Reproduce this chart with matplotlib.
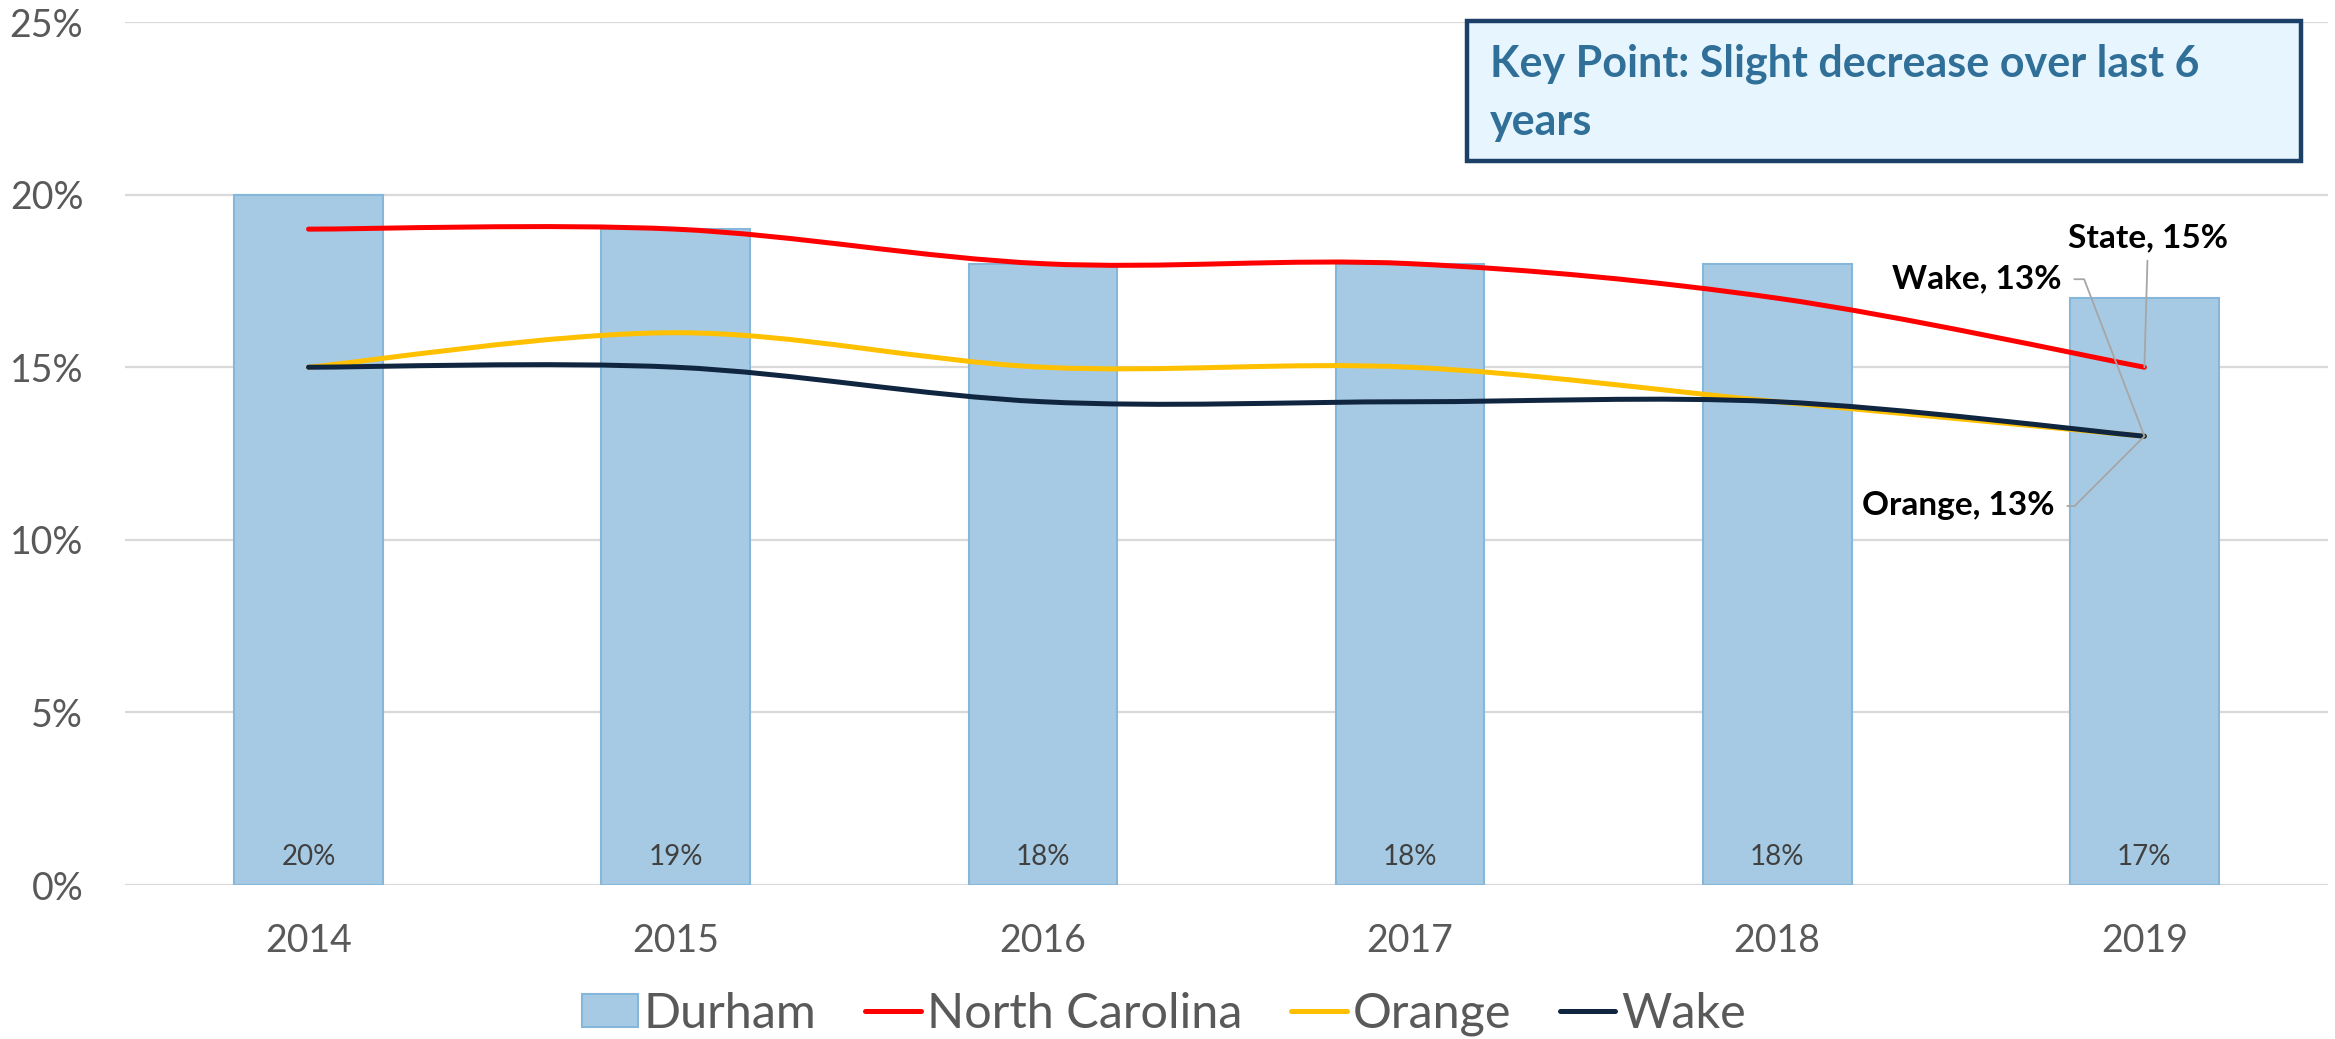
"""Durham vs state/county trend chart, Excel-style bars + smoothed lines."""

import numpy as np
import matplotlib
matplotlib.use("Agg")
import matplotlib.pyplot as plt
from matplotlib.path import Path
from matplotlib.patches import PathPatch, FancyBboxPatch, Patch
from matplotlib.lines import Line2D
from matplotlib.ticker import PercentFormatter

plt.rcParams['font.family'] = ['Lato', 'DejaVu Sans']

# ---- data ----
years = ['2014', '2015', '2016', '2017', '2018', '2019']
durham = [0.20, 0.19, 0.18, 0.18, 0.18, 0.17]
north_carolina = [0.19, 0.19, 0.18, 0.18, 0.17, 0.15]
orange = [0.15, 0.16, 0.15, 0.15, 0.14, 0.13]
wake = [0.15, 0.15, 0.14, 0.14, 0.14, 0.13]

durham_labels = ['20%', '19%', '18%', '18%', '18%', '17%']
key_point = ['Key Point: Slight decrease over last 6', 'years']

# colours
BAR_FILL = '#A6CAE3'
BAR_EDGE = '#86B7DA'
RED = '#FF0000'
GOLD = '#FFC000'
NAVY = '#0F2540'
GRID = '#D9D9D9'
TXT = '#595959'


def smooth_path(xs, ys):
    """Excel-like smoothed line: cubic Bezier segments through the points."""
    pts = np.column_stack([xs, ys]).astype(float)
    n = len(pts)
    verts = [pts[0]]
    codes = [Path.MOVETO]
    for i in range(n - 1):
        p0 = pts[max(i - 1, 0)]
        p1 = pts[i]
        p2 = pts[i + 1]
        p3 = pts[min(i + 2, n - 1)]
        verts += [p1 + (p2 - p0) / 6, p2 - (p3 - p1) / 6, p2]
        codes += [Path.CURVE4] * 3
    return Path(verts, codes)


fig = plt.figure(figsize=(23.35, 10.39), dpi=100)
ax = fig.add_axes([0.0535, 0.1482, 0.9435, 0.8306])

x = np.arange(len(years))

# gridlines
ax.set_ylim(0, 0.25)
ax.set_xlim(-0.5, len(years) - 0.5)
ax.set_yticks(np.arange(0, 0.26, 0.05))
ax.yaxis.set_major_formatter(PercentFormatter(1.0, decimals=0))
ax.grid(axis='y', color=GRID, linewidth=1.6)
ax.set_axisbelow(True)
for s in ax.spines.values():
    s.set_visible(False)
ax.tick_params(axis='both', length=0, labelsize=27, labelcolor=TXT)
ax.tick_params(axis='y', pad=30)
ax.tick_params(axis='x', pad=27)
ax.set_xticks(x)
ax.set_xticklabels(years)

# Durham bars
ax.bar(x, durham, width=0.405, color=BAR_FILL, edgecolor=BAR_EDGE,
       linewidth=1.5, zorder=2)
for xi, lab in zip(x, durham_labels):
    ax.text(xi, 0.008, lab, ha='center', va='center', fontsize=20,
            color='#404040', zorder=3)

# smoothed lines
for vals, col, z in [(north_carolina, RED, 4), (orange, GOLD, 4), (wake, NAVY, 5)]:
    ax.add_patch(PathPatch(smooth_path(x, vals), facecolor='none', edgecolor=col,
                           linewidth=3.6, capstyle='round', joinstyle='round',
                           zorder=z))

# end-point call-outs
lead = dict(arrowstyle='-', color='#A6A6A6', lw=1.3, shrinkB=0)
last = len(years) - 1
ax.annotate('State, 15%', xy=(last, north_carolina[-1]), xytext=(4.791, 0.1875),
            ha='left', va='center', fontsize=24, fontweight='bold', color='black',
            arrowprops=dict(lead, shrinkA=4, relpos=(0.5, 0.0)), zorder=6)
ax.annotate('Wake, 13%', xy=(last, wake[-1]), xytext=(4.775, 0.1755),
            ha='right', va='center', fontsize=24, fontweight='bold', color='black',
            arrowprops=dict(lead, shrinkA=7, relpos=(1.0, 0.5),
                            connectionstyle='angle,angleA=0,angleB=111,rad=0'),
            zorder=6)
ax.annotate('Orange, 13%', xy=(last, orange[-1]), xytext=(4.756, 0.1098),
            ha='right', va='center', fontsize=24, fontweight='bold', color='black',
            arrowprops=dict(lead, shrinkA=7, relpos=(1.0, 0.5),
                            connectionstyle='angle,angleA=0,angleB=225,rad=0'),
            zorder=6)

# key point box
box = FancyBboxPatch((0.6283, 0.845), 0.3571, 0.1348, boxstyle='square,pad=0',
                     transform=fig.transFigure, facecolor='#E7F5FE',
                     edgecolor='#1B3F66', linewidth=3.2, zorder=10)
fig.patches.append(box)
fig.text(0.638, 0.9259, key_point[0], fontsize=31, fontweight='bold',
         color='#2F6F98', va='baseline', ha='left', zorder=11)
fig.text(0.638, 0.870, key_point[1], fontsize=31, fontweight='bold',
         color='#2F6F98', va='baseline', ha='left', zorder=11)

# legend
handles = [
    Patch(facecolor=BAR_FILL, edgecolor=BAR_EDGE, linewidth=1.5, label='Durham'),
    Line2D([], [], color=RED, lw=3.6, solid_capstyle='round', label='North Carolina'),
    Line2D([], [], color=GOLD, lw=3.6, solid_capstyle='round', label='Orange'),
    Line2D([], [], color=NAVY, lw=3.6, solid_capstyle='round', label='Wake'),
]
leg = fig.legend(handles=handles, loc='center', bbox_to_anchor=(0.4985, 0.024),
                 ncol=4, frameon=False, fontsize=35, handlelength=1.15,
                 handleheight=0.66, handletextpad=0.12, columnspacing=1.0,
                 borderpad=0)
for t in leg.get_texts():
    t.set_color(TXT)

fig.savefig('out.png', dpi=100)
